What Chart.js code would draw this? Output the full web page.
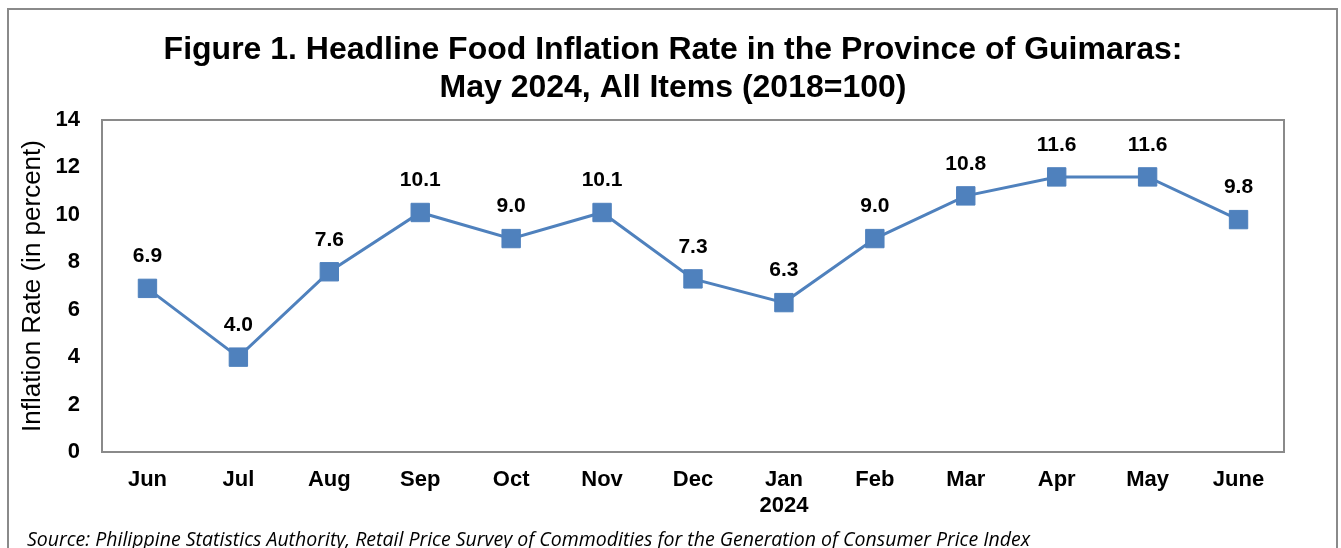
<!DOCTYPE html>
<html>
<head>
<meta charset="utf-8">
<script src="https://cdn.jsdelivr.net/npm/chart.js@4.4.1/dist/chart.umd.min.js"></script>
<style>
  html, body { margin: 0; padding: 0; background: #fff; overflow: hidden; }
  #wrap { position: relative; width: 1341px; height: 548px; }
  #frame { position: absolute; left: 7px; top: 8px; width: 1331px; height: 560px; border: 2px solid #8a8a8a; box-sizing: border-box; }
  #chart { position: absolute; left: 0; top: 0; }
  #source { position: absolute; left: 27px; top: 525px; font-family: "Open Sans", sans-serif; font-style: italic; font-size: 19.5px; color: #000; white-space: nowrap; }
</style>
</head>
<body>
<div id="wrap">
  <div id="frame"></div>
  <canvas id="chart" width="1341" height="548"></canvas>
  <div id="source">Source: Philippine Statistics Authority, Retail Price Survey of Commodities for the Generation of Consumer Price Index</div>
</div>
<script>
// data
const months = ['Jun', 'Jul', 'Aug', 'Sep', 'Oct', 'Nov', 'Dec', ['Jan', '2024'], 'Feb', 'Mar', 'Apr', 'May', 'June'];
const foodInflation = [6.9, 4.0, 7.6, 10.1, 9.0, 10.1, 7.3, 6.3, 9.0, 10.8, 11.6, 11.6, 9.8];
const yTicks = [0, 2, 4, 6, 8, 10, 12, 14];
const titleLines = ['Figure 1. Headline Food Inflation Rate in the Province of Guimaras:', 'May 2024, All Items (2018=100)'];

const blue = '#4F81BD';
const fontFam = '"Liberation Sans", Arial, sans-serif';

// title centred on the whole figure, not just the plot
const figTitle = {
    id: 'figTitle',
    afterDraw(chart) {
        const ctx = chart.ctx;
        ctx.save();
        ctx.font = 'bold 32px ' + fontFam;
        ctx.fillStyle = '#000';
        ctx.textAlign = 'center';
        ctx.textBaseline = 'alphabetic';
        titleLines.forEach((t, i) => ctx.fillText(t, 673, 59 + i * 38));
        ctx.restore();
    }
};

// value labels above each point
const valueLabels = {
    id: 'valueLabels',
    afterDatasetsDraw(chart) {
        const ctx = chart.ctx;
        const meta = chart.getDatasetMeta(0);
        ctx.save();
        ctx.font = 'bold 21px ' + fontFam;
        ctx.fillStyle = '#000';
        ctx.textAlign = 'center';
        ctx.textBaseline = 'middle';
        meta.data.forEach((pt, i) => {
            ctx.fillText(foodInflation[i].toFixed(1), pt.x, pt.y - 32);
        });
        ctx.restore();
    }
};

// box around plot area
const plotBorder = {
    id: 'plotBorder',
    beforeDatasetsDraw(chart) {
        const a = chart.chartArea;
        const ctx = chart.ctx;
        ctx.save();
        ctx.strokeStyle = '#8a8a8a';
        ctx.lineWidth = 2;
        ctx.strokeRect(a.left, a.top, a.right - a.left, a.bottom - a.top);
        ctx.restore();
    }
};

new Chart(document.getElementById('chart'), {
    type: 'line',
    data: {
        labels: months,
        datasets: [{
            data: foodInflation,
            borderColor: blue,
            backgroundColor: blue,
            borderWidth: 3,
            pointStyle: 'rect',
            pointRadius: 13,
            pointHoverRadius: 13,
            pointBorderWidth: 1,
            pointBackgroundColor: blue,
            pointBorderColor: blue,
            tension: 0
        }]
    },
    options: {
        responsive: false,
        animation: false,
        layout: { padding: { left: 0, right: 57, top: 120, bottom: 0 } },
        plugins: {
            legend: { display: false },
            tooltip: { enabled: false },
            title: { display: false }
        },
        scales: {
            x: {
                offset: true,
                grid: { display: false, drawTicks: false },
                border: { display: false },
                ticks: {
                    color: '#000',
                    padding: 15,
                    maxRotation: 0,
                    autoSkip: false,
                    font: { family: fontFam, size: 22, weight: 'bold', lineHeight: 1.18 }
                },
                afterFit(s) { s.height = 96; }
            },
            y: {
                min: 0,
                max: 14,
                afterBuildTicks(s) { s.ticks = yTicks.map(v => ({ value: v })); },
                grid: { display: false, drawTicks: false },
                border: { display: false },
                ticks: {
                    color: '#000',
                    padding: 22,
                    font: { family: fontFam, size: 22, weight: 'bold' }
                },
                title: {
                    display: true,
                    text: 'Inflation Rate (in percent)',
                    color: '#000',
                    padding: { top: 17, bottom: 0 },
                    font: { family: fontFam, size: 26, lineHeight: 1.2 }
                },
                afterFit(s) { s.width = 102; }
            }
        }
    },
    plugins: [plotBorder, valueLabels, figTitle]
});
</script>
</body>
</html>
